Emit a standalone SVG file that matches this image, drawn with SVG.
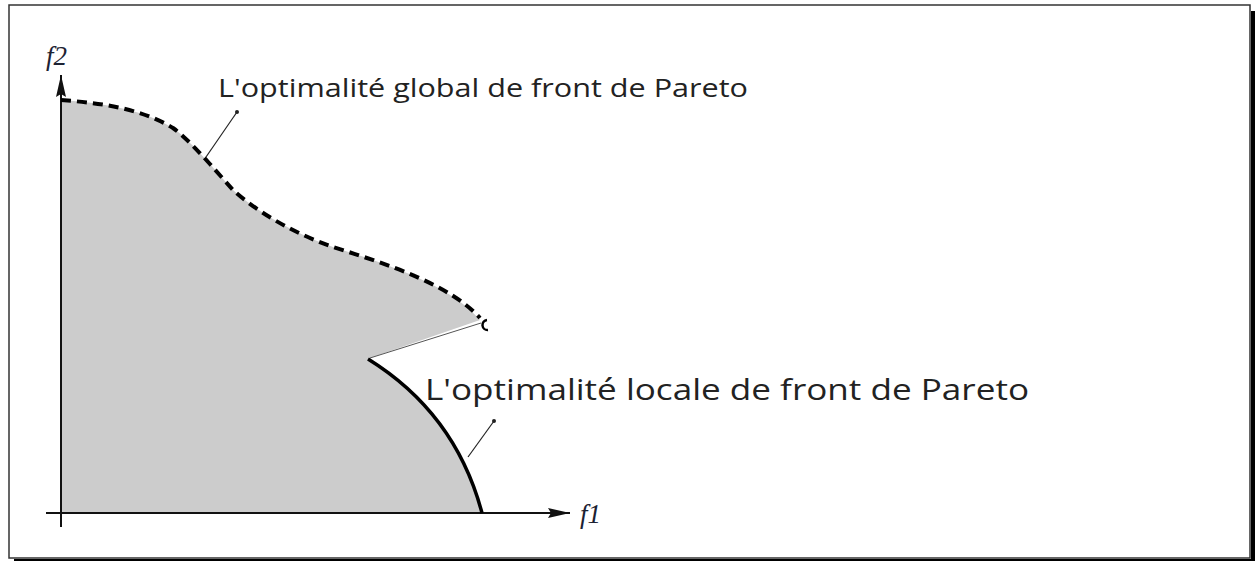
<svg xmlns="http://www.w3.org/2000/svg" width="1255" height="561" viewBox="0 0 1255 561">
  <style>
    .lbl { font-family: "Open Sans", "Liberation Sans", sans-serif; fill: #222; }
    .ax { font-family: "Liberation Serif", serif; font-style: italic; fill: #1c2233; font-size: 27px; }
    .axis { stroke: #111; stroke-width: 2; fill: none; }
    .leader { stroke: #222; stroke-width: 1.2; fill: none; }
  </style>
  <defs>
    <marker id="arr" viewBox="0 0 22 10" refX="22" refY="5" markerWidth="22" markerHeight="10" markerUnits="userSpaceOnUse" orient="auto">
      <path d="M0,0 L22,5 L0,10 L3,5 Z" fill="#111"/>
    </marker>
  </defs>
  <rect width="1255" height="561" fill="#fff"/>
  <g id="frame">
    <rect x="1251" y="11" width="4" height="550" fill="#000"/>
    <rect x="14" y="559" width="1241" height="2" fill="#000"/>
    <rect x="9" y="5" width="1241" height="553" fill="none" stroke="#333" stroke-width="1.5"/>
  </g>
  <g id="region">
    <path d="M61,100 C100,103 140,108 173,128 C190,140 215,170 233,190 C255,210 290,232 333,247 C390,265 450,285 480,320 L370,358 C410,385 460,430 482,513 L61,513 Z" fill="#cccccc"/>
  </g>
  <g id="connectors">
    <line class="axis" x1="61" y1="527" x2="61" y2="75" marker-end="url(#arr)"/>
    <line class="axis" x1="46" y1="513" x2="570" y2="513" marker-end="url(#arr)"/>
    <path id="global-front" d="M61,100 C100,103 140,108 173,128 C190,140 215,170 233,190 C255,210 290,232 333,247 C390,265 450,285 480,318" fill="none" stroke="#000" stroke-width="4" stroke-dasharray="10,6"/>
    <path d="M487,320 A5,5 0 0 0 488,330" fill="none" stroke="#000" stroke-width="2.5"/>
    <line x1="481" y1="323" x2="370" y2="358" stroke="#555" stroke-width="1"/>
    <path id="local-front" d="M368,359 C410,385 460,430 482,513" fill="none" stroke="#000" stroke-width="3.5"/>
    <line class="leader" x1="237" y1="112" x2="206" y2="157"/>
    <circle cx="237" cy="112" r="2" fill="#222"/>
    <line class="leader" x1="494" y1="421" x2="468" y2="457"/>
    <circle cx="494" cy="421" r="2" fill="#222"/>
  </g>
  <g id="label-f2"><text class="ax" x="46" y="65">f2</text></g>
  <g id="label-f1"><text class="ax" x="580" y="523">f1</text></g>
  <g id="label-global"><text class="lbl" x="218" y="97" font-size="26" textLength="530" lengthAdjust="spacingAndGlyphs">L'optimalité global de front de Pareto</text></g>
  <g id="label-local"><text class="lbl" x="425" y="400" font-size="30" textLength="604" lengthAdjust="spacingAndGlyphs">L'optimalité locale de front de Pareto</text></g>
</svg>
